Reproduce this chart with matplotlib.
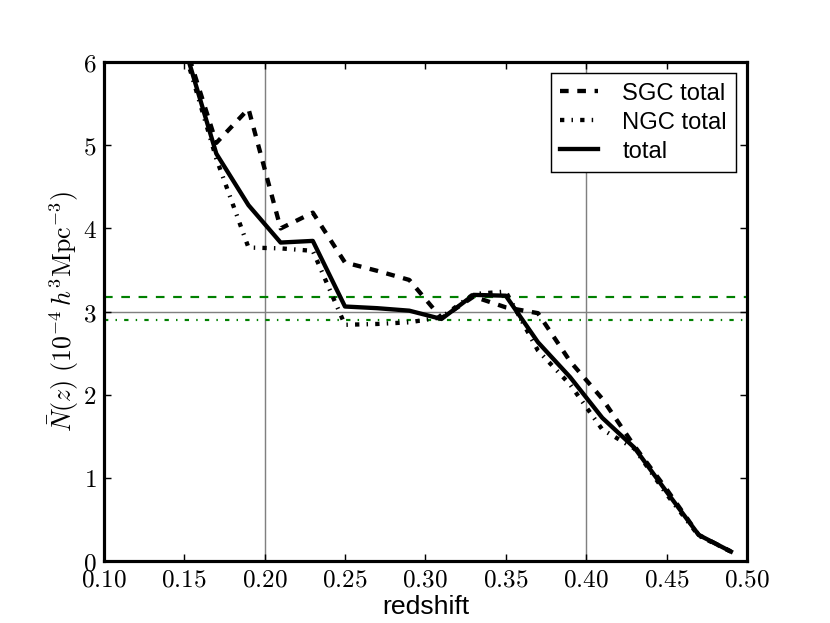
import matplotlib
matplotlib.use("Agg")
import matplotlib.pyplot as plt
from matplotlib.ticker import FixedLocator, FixedFormatter

# ---- data ----
redshift = [0.15, 0.17, 0.19, 0.21, 0.23, 0.25, 0.27, 0.29, 0.31, 0.33,
            0.35, 0.37, 0.39, 0.41, 0.43, 0.45, 0.47, 0.49]
sgc_total = [6.25, 5.03, 5.44, 4.00, 4.19, 3.59, 3.49, 3.38, 2.92, 3.18,
             3.05, 2.98, 2.40, 1.95, 1.38, 0.86, 0.31, 0.11]
ngc_total = [6.15, 4.84, 3.77, 3.76, 3.73, 2.84, 2.85, 2.87, 2.93, 3.21,
             3.24, 2.53, 2.12, 1.58, 1.35, 0.80, 0.30, 0.11]
total = [6.20, 4.90, 4.28, 3.83, 3.85, 3.06, 3.04, 3.01, 2.91, 3.20,
         3.19, 2.63, 2.21, 1.72, 1.36, 0.83, 0.31, 0.11]
sgc_mean = 3.17
ngc_mean = 2.90
ref_level = 3.0
ref_z = [0.2, 0.4]

xticks = [0.10, 0.15, 0.20, 0.25, 0.30, 0.35, 0.40, 0.45, 0.50]
xticklabels = ["0.10", "0.15", "0.20", "0.25", "0.30", "0.35", "0.40", "0.45", "0.50"]
yticks = [0, 1, 2, 3, 4, 5, 6]
yticklabels = ["0", "1", "2", "3", "4", "5", "6"]

plt.rcParams['mathtext.fontset'] = 'cm'
plt.rcParams['lines.scale_dashes'] = False
plt.rcParams['font.family'] = ['Liberation Sans', 'DejaVu Sans']
plt.rcParams['xtick.direction'] = 'in'
plt.rcParams['ytick.direction'] = 'in'
plt.rcParams['xtick.top'] = True
plt.rcParams['ytick.right'] = True

dpi = 103.75
fig = plt.figure(figsize=(830 / dpi, 623 / dpi), dpi=dpi)
ax = fig.add_axes([0.125, 0.1, 0.775, 0.8])

for z in ref_z:
    ax.axvline(z, color='#808080', lw=1.0, zorder=1)
ax.axhline(ref_level, color='#808080', lw=1.0, zorder=1)
ax.axhline(sgc_mean, color='#008000', lw=1.5, ls=(0, (6, 6)), zorder=2)
ax.axhline(ngc_mean, color='#008000', lw=1.5, ls=(0, (3, 5, 1, 5)), zorder=2)

ax.plot(redshift, sgc_total, color='black', lw=3, ls=(0, (6, 6)), label='SGC total', zorder=3)
ax.plot(redshift, ngc_total, color='black', lw=3, ls=(0, (3, 5, 1, 5)), label='NGC total', zorder=3)
ax.plot(redshift, total, color='black', lw=3, ls='-', label='total', zorder=4)

ax.set_xlim(0.1, 0.5)
ax.set_ylim(0, 6)
ax.xaxis.set_major_locator(FixedLocator(xticks))
ax.xaxis.set_major_formatter(FixedFormatter(["$%s$" % t for t in xticklabels]))
ax.yaxis.set_major_locator(FixedLocator(yticks))
ax.yaxis.set_major_formatter(FixedFormatter(["$%s$" % t for t in yticklabels]))
ax.tick_params(axis='both', which='major', labelsize=17.5, length=5, width=1, pad=5)

for s in ax.spines.values():
    s.set_linewidth(2.2)

ax.set_xlabel('redshift', fontsize=18.5, labelpad=2)
ax.set_ylabel(r'$\bar{N}(z)\ (10^{-4}\,h^3{\rm Mpc}^{-3})$', fontsize=18, labelpad=1)

leg = ax.legend(loc='upper right', fontsize=16.5, handlelength=1.6, handletextpad=1.0,
                borderpad=0.4, labelspacing=0.3, borderaxespad=0.45, fancybox=False,
                framealpha=1)
leg.get_frame().set_edgecolor('black')
leg.get_frame().set_linewidth(1.0)

fig.savefig('out.png', dpi=dpi)
